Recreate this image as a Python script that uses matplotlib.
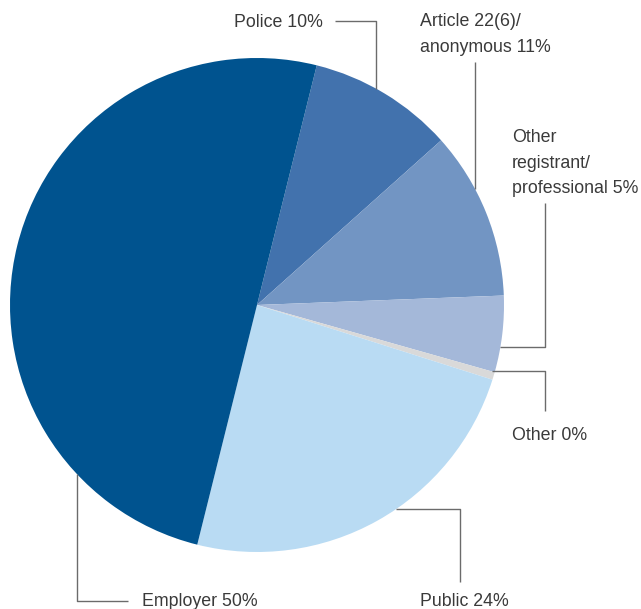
import numpy as np
import matplotlib
matplotlib.use("Agg")
import matplotlib.pyplot as plt

labels = ["Police", "Article 22(6)/\nanonymous", "Other\nregistrant/\nprofessional", "Other", "Public", "Employer"]
values = [9.5, 11, 5, 0.5, 24, 50]
shown_pct = ["10%", "11%", "5%", "0%", "24%", "50%"]
colors = ["#4272ad", "#7295c3", "#a4b8d9", "#d9d9d9", "#b9dbf3", "#00538f"]

W, H = 641, 609
fig = plt.figure(figsize=(W / 100, H / 100), dpi=100)
ax = fig.add_axes([0, 0, 1, 1])
ax.axis("off")

cx, cy, r = 257, H - 305, 247
ax.pie(values, colors=colors, startangle=76, counterclock=False,
       center=(cx, cy), radius=r, wedgeprops=dict(linewidth=0))
ax.set_xlim(0, W)
ax.set_ylim(0, H)
ax.set_aspect("equal")

lc = "#6b6b6b"
tc = "#3a3a3a"
fs = 12.8
font = "Liberation Sans"

def Y(y):
    return H - y

def edge_y(x, upper=True):
    d = np.sqrt(max(r**2 - (x - cx)**2, 0))
    return cy + d if upper else cy - d

def edge_x(y, right=True):
    d = np.sqrt(max(r**2 - (y - cy)**2, 0))
    return cx + d if right else cx - d

def line(xs, ys):
    ax.plot(xs, ys, color=lc, lw=1.0, solid_capstyle="butt")

def label(i, x, y, ha="left"):
    txt = labels[i] + " " + shown_pct[i]
    ax.text(x, Y(y), txt, ha=ha, va="top", fontsize=fs, color=tc,
            family=font, linespacing=1.66)

# Police
line([335, 376, 376], [Y(21), Y(21), edge_y(376)])
label(0, 323, 14, ha="right")
# Article 22(6)
line([475, 475], [Y(62), edge_y(475)])
label(1, 420, 13)
# Other registrant
line([545, 545, edge_x(Y(347))], [Y(203), Y(347), Y(347)])
label(2, 512, 129)
# Other
line([edge_x(Y(371)) - 3, 545, 545], [Y(371), Y(371), Y(411)])
label(3, 512, 427)
# Public
line([edge_x(Y(509)), 460, 460], [Y(509), Y(509), Y(582)])
label(4, 420, 593)
# Employer
line([77, 77, 128], [edge_y(77, upper=False), Y(601), Y(601)])
label(5, 142, 593)

fig.savefig("out.png", dpi=100)
